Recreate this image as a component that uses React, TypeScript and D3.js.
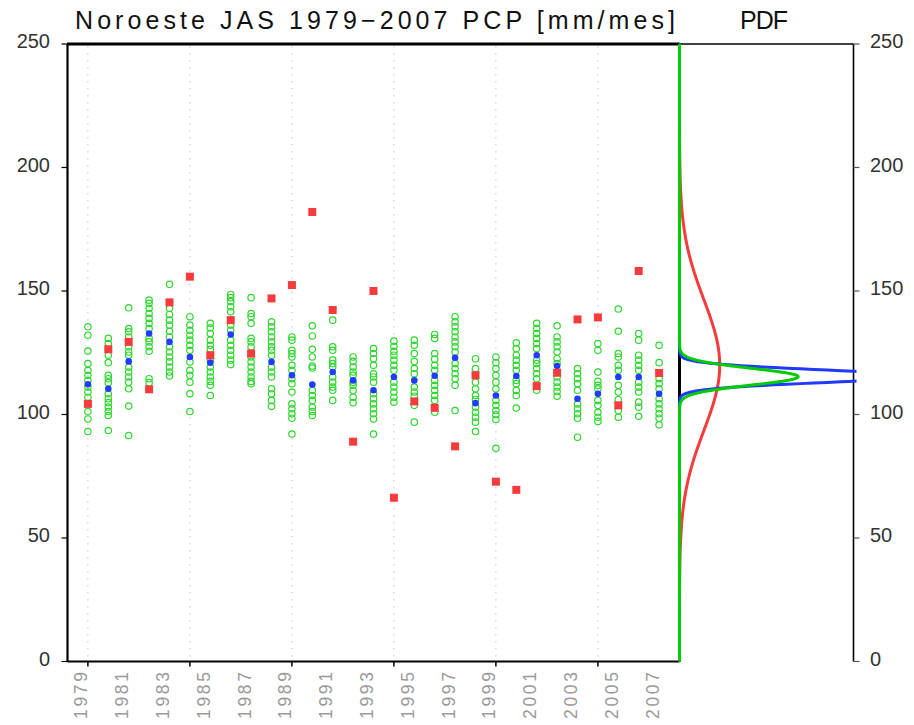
import React from "react";
import * as d3 from "d3";

const years = [1979,1980,1981,1982,1983,1984,1985,1986,1987,1988,1989,1990,1991,1992,1993,1994,1995,1996,1997,1998,1999,2000,2001,2002,2003,2004,2005,2006,2007];

const members: number[][] = [
  [135.5,132.1,125.7,120.6,117.9,115.9,113.8,111.1,109.1,107.0,104.3,101.2,98.2,93.1],
  [130.8,128.7,124.0,121.0,115.9,114.5,112.9,108.4,106.4,104.8,103.0,101.2,99.6,93.5],
  [143.2,134.8,133.5,131.4,127.4,125.3,124.0,119.2,117.2,115.2,113.1,110.4,103.4,91.5],
  [146.3,145.0,143.0,140.9,138.9,136.9,134.8,130.8,129.4,127.4,125.6,114.5,112.9],
  [152.7,143.0,140.5,138.2,136.2,133.7,131.4,127.4,125.3,123.3,121.3,119.2,117.2,115.6],
  [139.6,136.2,134.1,132.1,130.1,128.0,126.0,121.3,117.9,115.9,113.1,108.4,101.2],
  [136.9,135.1,132.8,130.1,128.0,126.4,122.0,119.2,117.2,115.2,113.4,111.8,107.7],
  [148.6,147.3,145.7,143.6,141.6,136.2,134.1,130.1,128.0,126.0,124.0,122.0,120.2],
  [147.3,140.9,139.6,136.9,130.8,129.4,127.4,123.3,121.3,119.2,117.2,115.2,113.4,112.5],
  [137.5,135.5,133.5,131.4,129.4,127.4,126.0,124.0,119.2,117.2,115.2,110.4,108.4,105.7,103.3],
  [131.4,130.1,126.0,124.7,123.3,119.9,117.9,114.5,112.5,109.1,104.3,102.3,100.3,98.5,92.1],
  [135.9,131.8,126.4,123.3,119.6,118.8,109.8,107.7,105.7,103.0,101.2,99.6],
  [138.2,127.4,126.0,122.0,120.6,119.2,115.2,113.1,111.1,109.8,105.7],
  [123.3,121.5,119.2,117.2,115.9,113.1,111.8,109.8,107.0,104.8],
  [126.7,124.7,122.6,119.9,116.5,115.2,113.1,108.4,106.4,104.3,102.3,100.3,98.2,92.1],
  [129.7,127.6,125.6,124.0,122.0,119.9,117.9,113.1,111.1,109.1,107.0,105.0],
  [130.1,128.0,124.7,121.5,118.6,116.5,111.1,109.1,107.4,103.7,96.9],
  [132.4,130.8,124.7,122.4,119.9,117.9,113.8,111.8,109.8,107.7,105.7,100.9],
  [139.6,137.5,135.5,133.5,131.4,129.4,127.4,125.3,120.6,118.6,116.5,114.5,111.8,101.6],
  [122.6,118.6,113.1,110.4,107.7,106.1,103.0,100.9,98.9,96.9,93.1],
  [123.3,121.0,118.6,115.9,113.1,110.4,105.7,103.7,101.6,99.9,98.0,86.3],
  [129.0,126.7,124.0,122.0,119.9,117.9,113.8,112.5,109.8,107.7,102.6],
  [136.9,134.8,132.8,130.8,128.7,126.7,122.0,120.6,118.6,116.5,114.5,109.8],
  [135.9,131.4,129.4,127.4,125.3,122.6,120.6,115.2,113.1,111.1,109.3,107.4],
  [118.6,116.5,114.5,112.5,109.8,104.3,102.3,100.3,98.5,90.8],
  [128.7,126.0,117.2,113.4,111.8,110.4,105.7,103.7,100.9,98.9,97.2],
  [142.7,133.7,124.7,123.3,119.9,117.9,111.8,109.1,106.1,101.6,98.9],
  [132.8,130.1,124.0,122.0,119.9,117.9,113.1,111.1,109.1,105.0,103.0,99.3],
  [128.0,121.0,114.5,112.5,110.4,106.4,104.3,102.3,100.3,98.5,95.8],
];

const ensMean = [112.2,110.4,121.5,132.8,129.4,123.3,121.0,132.4,124.5,121.3,115.9,112.1,117.2,113.8,109.8,115.2,113.8,115.7,123.0,104.6,107.7,115.6,124.0,119.6,106.4,108.4,115.2,115.2,108.4];

const obs = [104.3,126.4,129.4,110.2,145.4,155.8,124.0,138.2,124.7,147.0,152.4,182.0,142.3,89.0,150.0,66.3,105.3,102.7,87.1,115.9,72.8,69.5,111.5,116.9,138.5,139.3,103.7,158.1,116.8];

const yTicks = [0, 50, 100, 150, 200, 250];
const gridYears = [1979, 1984, 1989, 1994, 1999, 2004];
const labelYears = [1979,1981,1983,1985,1987,1989,1991,1993,1995,1997,1999,2001,2003,2005,2007];

// fitted PDFs: observations, ensemble mean, ensemble members
const pdfNames = ["obs", "ensMean", "members"];
const pdfMeans = [120, 115.5, 115.3];
const pdfSds = [26.5, 2.6, 3.4];
const pdfPeaks = [0.231, 1.35, 0.682];
const pdfColors = ["#f53b3b", "#2038ff", "#00cc00"];

const title = "Noroeste JAS 1979\u22122007 PCP [mm/mes]";

export default function App() {
  const W = 914, H = 725;
  const left = 67.5, mainRight = 679.5, panelRight = 853.5, top = 44, bottom = 661.5;
  const x = d3.scaleLinear().domain([1978, 2008]).range([left, mainRight]);
  const y = d3.scaleLinear().domain([0, 250]).range([bottom, top]);
  const px = d3.scaleLinear().domain([0, 1]).range([mainRight, panelRight]);
  const grid = d3.range(0, 250.001, 0.25);
  const font = "'Liberation Sans', Arial, sans-serif";

  const curves = pdfNames.map((n, i) => {
    const line = d3.line<number>()
      .x((v) => px(pdfPeaks[i] * Math.exp(-((v - pdfMeans[i]) ** 2) / (2 * pdfSds[i] ** 2))))
      .y((v) => y(v));
    return { n, d: line(grid) as string, c: pdfColors[i] };
  });

  return (
    <svg width={W} height={H} style={{ position: "absolute", left: 0, top: 0, background: "#fff" }}>
      <defs>
        <clipPath id="pdfclip">
          <rect x={mainRight - 3} y={top - 2} width={panelRight - mainRight + 6} height={bottom - top + 4} />
        </clipPath>
      </defs>
      <rect x={0} y={0} width={W} height={H} fill="#fff" />
      {/* title */}
      <text x={75} y={29} fontFamily={font} fontSize={25} fill="#111" textLength={600} lengthAdjust="spacing">{title}</text>
      <text x={740} y={29} fontFamily={font} fontSize={25} fill="#111" textLength={48} lengthAdjust="spacing">PDF</text>

      {/* grid lines */}
      {gridYears.map((yr) => (
        <line key={"g" + yr} x1={x(yr)} x2={x(yr)} y1={top + 2} y2={bottom - 1} stroke="#c8c8c8" strokeWidth={1} strokeDasharray="1.5 5.5" />
      ))}

      {/* green members */}
      {members.map((arr, i) =>
        arr.map((v, j) => (
          <circle key={`m${i}-${j}`} cx={x(years[i])} cy={y(v)} r={3.2} fill="none" stroke="#2ed62e" strokeWidth={1.2} />
        ))
      )}
      {/* ensemble mean */}
      {ensMean.map((v, i) => (
        <circle key={"b" + i} cx={x(years[i])} cy={y(v)} r={3.3} fill="#1f3cff" />
      ))}
      {/* observations */}
      {obs.map((v, i) => (
        <rect key={"r" + i} x={x(years[i]) - 4} y={y(v) - 4} width={8} height={8} fill="#f53b3b" />
      ))}

      {/* main frame */}
      <line x1={left - 0.5} x2={mainRight} y1={top} y2={top} stroke="#000" strokeWidth={3} />
      <line x1={left} x2={left} y1={top} y2={bottom} stroke="#000" strokeWidth={2.2} />
      <line x1={left} x2={mainRight} y1={bottom} y2={bottom} stroke="#000" strokeWidth={2} />
      {/* pdf panel frame */}
      <line x1={mainRight} x2={panelRight} y1={top} y2={top} stroke="#000" strokeWidth={1.6} />
      <line x1={panelRight} x2={panelRight} y1={top} y2={bottom} stroke="#000" strokeWidth={1.6} />
      <line x1={mainRight} x2={mainRight} y1={top} y2={bottom} stroke="#000" strokeWidth={3} />

      {/* pdf curves */}
      <g clipPath="url(#pdfclip)">
        {curves.map((c) => (
          <path key={c.n} d={c.d} fill="none" stroke={c.c} strokeWidth={3} strokeLinejoin="round" />
        ))}
      </g>

      {/* left axis */}
      {yTicks.map((t) => (
        <g key={"yl" + t}>
          <line x1={left - 6} x2={left} y1={y(t)} y2={y(t)} stroke="#000" strokeWidth={1.2} />
          <text x={50} y={y(t) + 4} textAnchor="end" fontFamily={font} fontSize={20} fill="#333">{t}</text>
        </g>
      ))}
      {/* right axis */}
      {yTicks.map((t) => (
        <g key={"yr" + t}>
          <line x1={panelRight} x2={panelRight + 6} y1={y(t)} y2={y(t)} stroke="#555" strokeWidth={1.2} />
          <text x={870} y={y(t) + 4} textAnchor="start" fontFamily={font} fontSize={20} fill="#333">{t}</text>
        </g>
      ))}
      {/* bottom ticks */}
      {gridYears.map((yr) => (
        <line key={"bt" + yr} x1={x(yr)} x2={x(yr)} y1={bottom} y2={bottom + 5} stroke="#000" strokeWidth={1.5} />
      ))}
      {labelYears.map((yr) => (
        <text key={"yl" + yr} transform={`translate(${x(yr) - 0.5},${672}) rotate(-90)`} textAnchor="end" fontFamily={font} fontSize={17.5} fill="#9a9a9a" textLength={47} lengthAdjust="spacing">{yr}</text>
      ))}
    </svg>
  );
}
